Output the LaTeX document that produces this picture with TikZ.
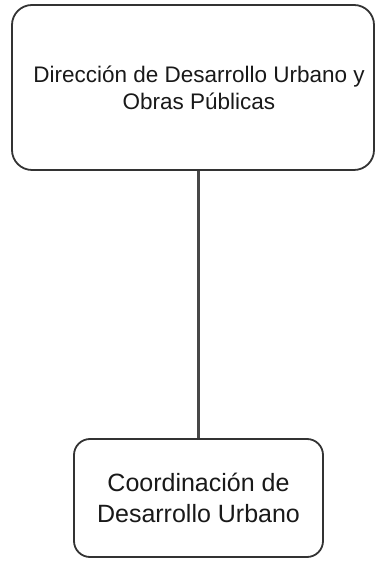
\documentclass[tikz,border=0pt]{standalone}
\usepackage{fontspec}
\setmainfont{Liberation Sans}
\begin{document}
\begin{tikzpicture}[x=1pt, y=1pt]
  \tikzstyle{box}=[draw=black!80, line width=1.8pt, fill=white, inner sep=0pt, align=center, text=black!90]
  \tikzstyle{link}=[draw=black!72, line width=2.4pt]

  \useasboundingbox (0, 0) rectangle (376, 561);

  \node[box, rounded corners=20pt, minimum width=362pt, minimum height=165pt,
        label={[xshift=6pt, align=center, text=black!90,
                font=\fontsize{22.5}{27}\selectfont]center:Dirección de Desarrollo Urbano y\\Obras Públicas}]
        (dir) at (193, 473.5) {};
  \node[box, rounded corners=16pt, minimum width=249pt, minimum height=118pt,
        font=\fontsize{25}{31}\selectfont]
        (coord) at (198.5, 63) {Coordinación de\\Desarrollo Urbano};

  \path[link] (coord.north) -- (coord.north |- dir.south);

\end{tikzpicture}
\end{document}
